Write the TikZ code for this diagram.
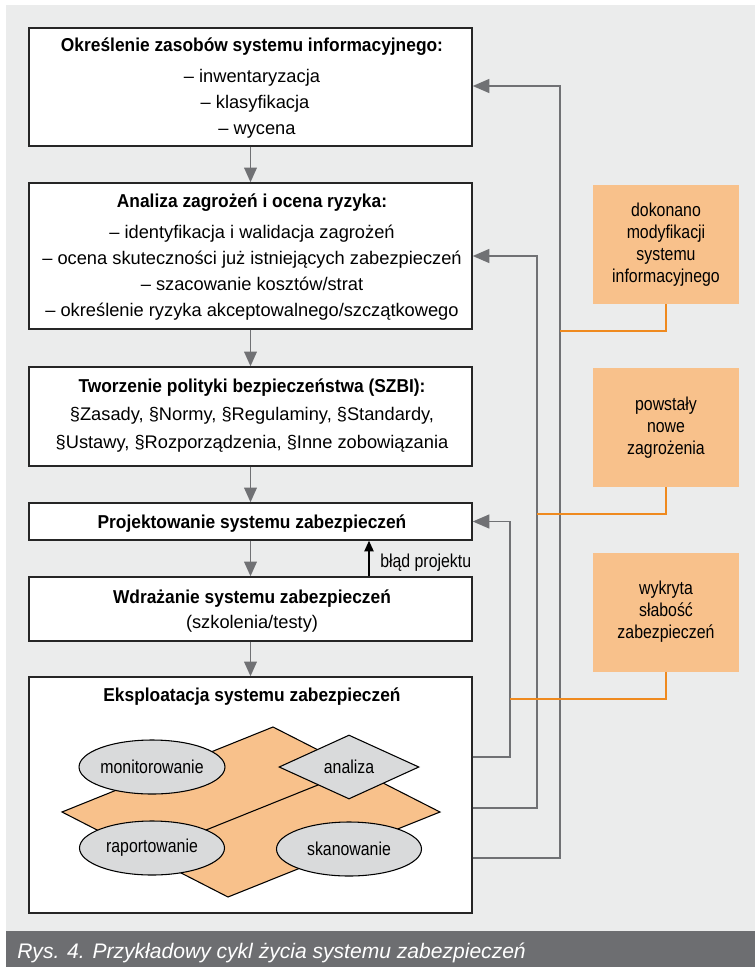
\documentclass[tikz,border=0pt]{standalone}
\usepackage{fontspec}
\setmainfont{Liberation Sans}[BoldFeatures={FakeStretch=0.93}]
\newfontfamily\narrowfont{Liberation Sans}[FakeStretch=0.85]
\usetikzlibrary{arrows.meta,shapes.geometric}

\definecolor{panelgray}{HTML}{EBECEC}
\definecolor{bargray}{HTML}{6D6E71}
\definecolor{linkgray}{HTML}{707174}
\definecolor{notefill}{HTML}{F8C18B}
\definecolor{noteline}{HTML}{EF8A1F}
\definecolor{shapegray}{HTML}{D9DADB}

\newcommand\headfont{\fontsize{14}{16}\selectfont\bfseries}
\newcommand\itemfont{\fontsize{13.7}{16}\selectfont}
\newcommand\notefont{\narrowfont\fontsize{14}{16.5}\selectfont}

\begin{document}
\begin{tikzpicture}[x=0.75pt,y=-0.75pt,
  stagebox/.style={draw=black!85, line width=1.1pt, fill=white, rectangle,
    inner sep=0pt, minimum width=443*0.75pt},
  head/.style={anchor=base, inner sep=0pt, font=\headfont},
  item/.style={anchor=base, inner sep=0pt, font=\itemfont},
  flow/.style={draw=linkgray, line width=1.2pt,
    -{Triangle[length=11pt,width=9.5pt]}},
  feedback/.style={draw=linkgray, line width=1.1pt,
    -{Triangle[length=12.5pt,width=10.5pt]}},
  trigger/.style={draw=noteline, line width=1.2pt},
  note/.style={fill=notefill, rectangle, inner sep=0pt,
    minimum width=146*0.75pt, minimum height=119*0.75pt,
    align=center, font=\notefont},
  activity/.style={ellipse, draw=black, line width=0.8pt, fill=shapegray,
    inner sep=0pt, minimum width=145*0.75pt, minimum height=54*0.75pt,
    font=\narrowfont\fontsize{14}{16}\selectfont},
]
\useasboundingbox (0,0) rectangle (755,967);

% panel and caption bar
\fill[white] (0,0) rectangle (755,967);
\fill[panelgray] (6,5) rectangle (755,931);
\fill[bargray] (6,931) rectangle (755,967);
\node[anchor=base west, inner sep=0pt, text=white,
  font=\fontsize{15.8}{18}\selectfont\itshape] (caption) at (17,958)
  {Rys. 4. Przykładowy cykl życia systemu zabezpieczeń};

% lifecycle stages
\node[stagebox, minimum height=118*0.75pt] (b1) at (250.5,87) {};
\node[stagebox, minimum height=146*0.75pt] (b2) at (250.5,256) {};
\node[stagebox, minimum height=99*0.75pt]  (b3) at (250.5,416.5) {};
\node[stagebox, minimum height=37*0.75pt]  (b4) at (250.5,521.5) {};
\node[stagebox, minimum height=64*0.75pt]  (b5) at (250.5,609) {};
\node[stagebox, minimum height=236*0.75pt] (b6) at (250.5,795) {};

\node[head] (h1) at (252,51) {Określenie zasobów systemu informacyjnego:};
\node[item] (i1a) at (252,82) {– inwentaryzacja};
\node[item] (i1b) at (255,108) {– klasyfikacja};
\node[item] (i1c) at (257,134) {– wycena};

\node[head] (h2) at (252,207) {Analiza zagrożeń i ocena ryzyka:};
\node[item] (i2a) at (252,238) {– identyfikacja i walidacja zagrożeń};
\node[item] (i2b) at (252,264) {– ocena skuteczności już istniejących zabezpieczeń};
\node[item] (i2c) at (252,290) {– szacowanie kosztów/strat};
\node[item] (i2d) at (252,316) {– określenie ryzyka akceptowalnego/szczątkowego};

\node[head] (h3) at (252,392) {Tworzenie polityki bezpieczeństwa (SZBI):};
\node[item] (i3a) at (252,420) {§Zasady, §Normy, §Regulaminy, §Standardy,};
\node[item] (i3b) at (252,448) {§Ustawy, §Rozporządzenia, §Inne zobowiązania};

\node[head] (h4) at (252,528) {Projektowanie systemu zabezpieczeń};

\node[head] (h5) at (252,603) {Wdrażanie systemu zabezpieczeń};
\node[item] (i5a) at (252,628) {(szkolenia/testy)};

\node[head] (h6) at (252,701) {Eksploatacja systemu zabezpieczeń};

% operation cycle inside the last stage
\draw[fill=notefill, draw=black, line width=0.8pt]
  (62,812) -- (273,727) -- (440,812) -- (228,897) -- cycle;
\draw[black, line width=0.8pt] (145,854.5) -- (356.5,769.5);
\node[activity] (mon) at (152,767) {monitorowanie};
\node[activity] (rap) at (152,848) {raportowanie};
\node[activity] (ska) at (349,849) {skanowanie};
\node[diamond, draw=black, line width=0.8pt, fill=shapegray, inner sep=0pt,
  minimum width=140*0.75pt, minimum height=64*0.75pt,
  font=\narrowfont\fontsize{14}{16}\selectfont] (ana) at (349,767) {analiza};

% main flow
\draw[flow] (b1.south) -- (b2.north);
\draw[flow] (b2.south) -- (b3.north);
\draw[flow] (b3.south) -- (b4.north);
\draw[flow] (b4.south) -- (b5.north);
\draw[flow] (b5.south) -- (b6.north);

% design error loop
\coordinate (errx) at (369,0);
\draw[black, line width=1pt, -{Triangle[length=8pt,width=7pt]}]
  (b5.north -| errx) -- (b4.south -| errx);
\node[anchor=base west, inner sep=0pt,
  font=\narrowfont\fontsize{14}{16}\selectfont]
  (err) at (380,567) {błąd projektu};

% feedback rails
\coordinate (rA1) at (560,858);
\coordinate (rA2) at (560,86);
\coordinate (rB1) at (537,808);
\coordinate (rB2) at (537,256);
\coordinate (rC1) at (510,757);
\coordinate (rC2) at (510,521.5);
\draw[feedback] (b6.east |- rA1) -- (rA1) -- (rA2) -- (b1.east |- rA2);
\draw[feedback] (b6.east |- rB1) -- (rB1) -- (rB2) -- (b2.east |- rB2);
\draw[feedback] (b6.east |- rC1) -- (rC1) -- (rC2) -- (b4.east |- rC2);

% triggering events
\node[note] (o1) at (666,244.5) {dokonano\\modyfikacji\\systemu\\informacyjnego};
\node[note] (o2) at (666,427.5) {powstały\\nowe\\zagrożenia};
\node[note] (o3) at (666,612) {wykryta\\słabość\\zabezpieczeń};
\coordinate (tA) at (560,331);
\coordinate (tB) at (537,514);
\coordinate (tC) at (510,699);
\draw[trigger] (o1.south) |- (tA);
\draw[trigger] (o2.south) |- (tB);
\draw[trigger] (o3.south) |- (tC);
\end{tikzpicture}
\end{document}
